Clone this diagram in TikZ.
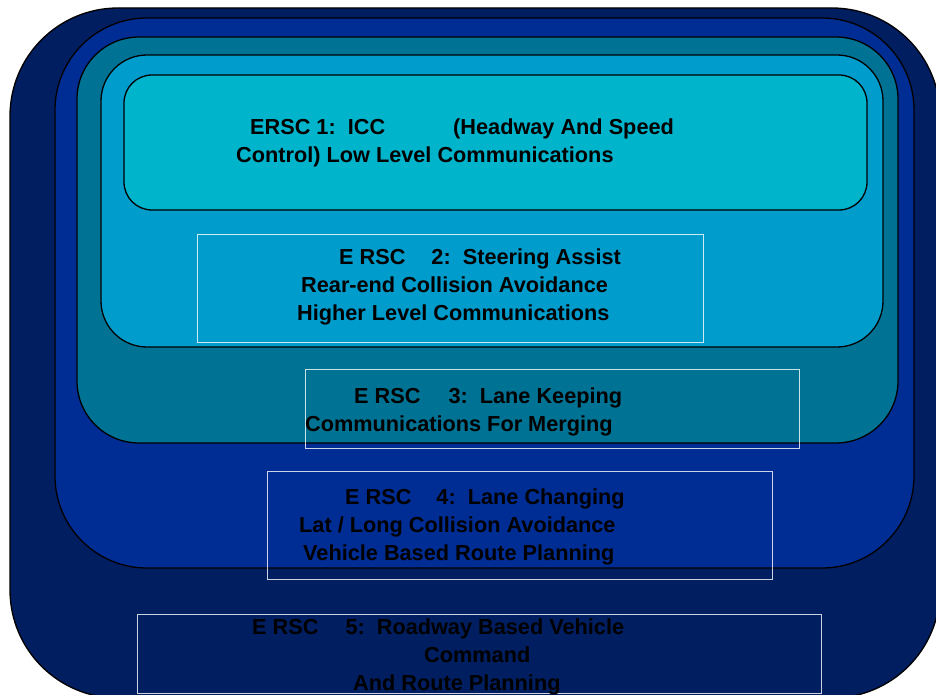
\documentclass[tikz,border=0pt]{standalone}
\usepackage{fontspec}
\setmainfont{Liberation Sans}
\definecolor{layerA}{RGB}{0,30,96}
\definecolor{layerB}{RGB}{0,45,148}
\definecolor{layerC}{RGB}{0,114,148}
\definecolor{layerD}{RGB}{0,156,204}
\definecolor{layerE}{RGB}{0,180,204}
\tikzset{
  layer/.style={draw=black, line width=1.3pt},
  framebox/.style={draw=white, draw opacity=0.8, line width=1pt},
  txt/.style={anchor=base west, inner sep=0pt, font=\fontsize{21.7}{26}\selectfont\bfseries, text=black}
}
\begin{document}
\begin{tikzpicture}[x=1pt,y=-1pt]
\useasboundingbox (0,0) rectangle (936,695);
\clip (0,0) rectangle (936,695);
% nested rounded layers
\draw[layer, fill=layerA, rounded corners=108pt] (10,8) rectangle (940,698);
\draw[layer, fill=layerB, rounded corners=92pt] (55,18) rectangle (914,568);
\draw[layer, fill=layerC, rounded corners=62pt] (77,37) rectangle (898,443);
\draw[layer, fill=layerD, rounded corners=46pt] (101,55) rectangle (883,347);
\draw[layer, fill=layerE, rounded corners=28pt] (124,75) rectangle (867,210);
% thin light frames
\draw[framebox] (197,234) rectangle (703,342);
\draw[framebox] (305,369) rectangle (799,448);
\draw[framebox] (267,471) rectangle (772,579);
\draw[framebox] (137,614) rectangle (821,693);
% texts
\node[txt] (t11) at (250,135) {ERSC 1:\ \ ICC\hspace{68pt}(Headway And Speed};
\node[txt] (t12) at (236,163) {Control) Low Level Communications};
\node[txt] (t21) at (339,264) {E RSC\hspace{26pt}2:\ \ Steering Assist};
\node[txt] (t22) at (301,292) {Rear-end Collision Avoidance};
\node[txt] (t23) at (297,320) {Higher Level Communications};
\node[txt] (t31) at (354,403) {E RSC\hspace{28pt}3:\ \ Lane Keeping};
\node[txt] (t32) at (305,431) {Communications For Merging};
\node[txt] (t41) at (345,504) {E RSC\hspace{25pt}4:\ \ Lane Changing};
\node[txt] (t42) at (299,532) {Lat / Long Collision Avoidance};
\node[txt] (t43) at (303,560) {Vehicle Based Route Planning};
\node[txt] (t51) at (252,634) {E RSC\hspace{27pt}5:\ \ Roadway Based Vehicle};
\node[txt] (t52) at (424,662) {Command};
\node[txt] (t53) at (353,690) {And Route Planning};
\end{tikzpicture}
\end{document}
